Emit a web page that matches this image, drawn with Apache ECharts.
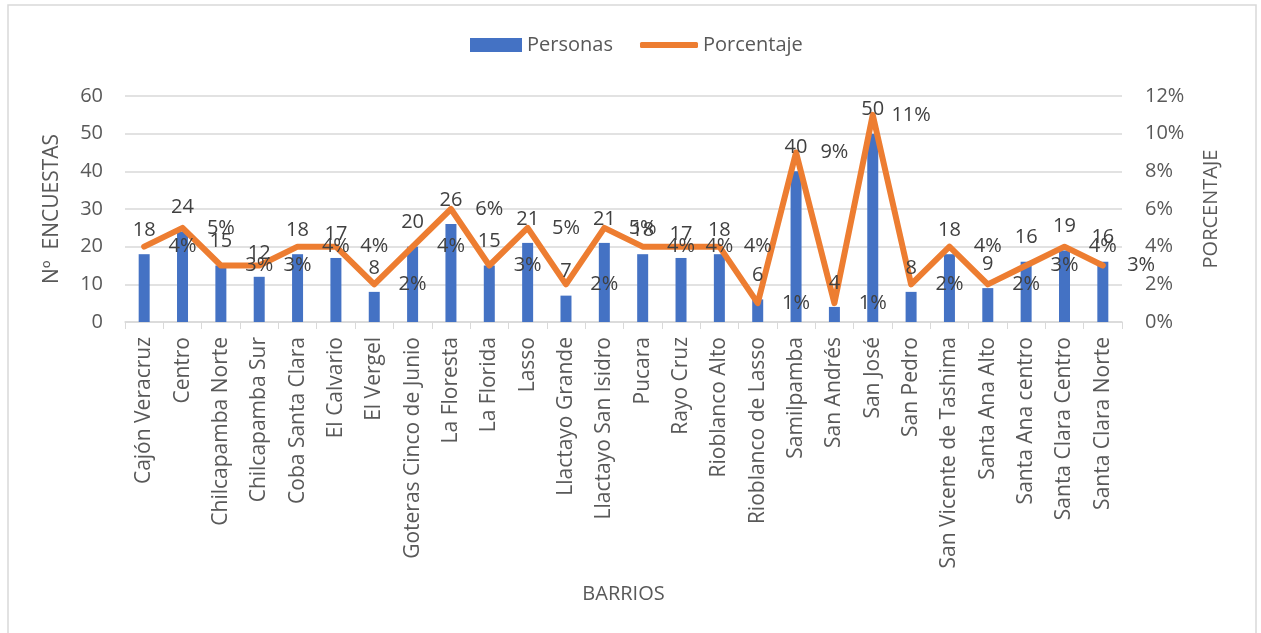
<!DOCTYPE html>
<html>
<head>
<meta charset="utf-8">
<script src="https://cdn.jsdelivr.net/npm/echarts@6/dist/echarts.min.js"></script>
<style>
    html, body {margin: 0; padding: 0; background: #fff;}
    #main {width: 1261px; height: 633px;}
</style>
</head>
<body>
<div id="main"></div>
<script>
// barrios encuestados
const barrios = [
    'Cajón Veracruz', 'Centro', 'Chilcapamba Norte', 'Chilcapamba Sur', 'Coba Santa Clara',
    'El Calvario', 'El Vergel', 'Goteras Cinco de Junio', 'La Floresta', 'La Florida',
    'Lasso', 'Llactayo Grande', 'Llactayo San Isidro', 'Pucara', 'Rayo Cruz',
    'Rioblanco Alto', 'Rioblanco de Lasso', 'Samilpamba', 'San Andrés', 'San José',
    'San Pedro', 'San Vicente de Tashima', 'Santa Ana Alto', 'Santa Ana centro',
    'Santa Clara Centro', 'Santa Clara Norte'
];
const personas = [18, 24, 15, 12, 18, 17, 8, 20, 26, 15, 21, 7, 21, 18, 17, 18, 6, 40, 4, 50, 8, 18, 9, 16, 19, 16];
const porcentaje = [4, 5, 3, 3, 4, 4, 2, 4, 6, 3, 5, 2, 5, 4, 4, 4, 1, 9, 1, 11, 2, 4, 2, 3, 4, 3];
const ticksPersonas = [0, 10, 20, 30, 40, 50, 60];
const ticksPorcentaje = [0, 2, 4, 6, 8, 10, 12];

const FONT = '"Open Sans", sans-serif';
const GRID = {left: 125, right: 139, top: 96, bottom: 311};
// ancho de cada categoria, las etiquetas % estan corridas una categoria a la derecha
const catW = (1261 - GRID.left - GRID.right) / barrios.length;

const chart = echarts.init(document.getElementById('main'));

const legendText = {fontSize: 20, color: '#595959', fontFamily: FONT};

const option = {
    animation: false,
    textStyle: {fontFamily: FONT},
    graphic: [{
        type: 'rect',
        shape: {x: 8, y: 5, width: 1248, height: 640},
        style: {fill: 'none', stroke: '#d9d9d9', lineWidth: 1.5},
        silent: true
    }],
    // dos leyendas para que la linea tenga su propio grosor
    legend: [{
        top: 30,
        left: 465,
        itemWidth: 52,
        itemHeight: 14,
        textStyle: legendText,
        data: [{name: 'Personas', icon: 'rect'}]
    }, {
        top: 30,
        left: 635,
        itemWidth: 58,
        itemHeight: 6,
        textStyle: legendText,
        data: [{name: 'Porcentaje', icon: 'roundRect'}]
    }],
    grid: GRID,
    xAxis: {
        type: 'category',
        data: barrios,
        name: 'BARRIOS',
        nameLocation: 'middle',
        nameGap: 262,
        nameTextStyle: {fontSize: 20, color: '#595959'},
        axisLine: {lineStyle: {color: '#d9d9d9', width: 1.5}},
        axisTick: {show: true, length: 7, lineStyle: {color: '#d9d9d9'}},
        axisLabel: {rotate: 90, fontSize: 21, color: '#595959', margin: 15, interval: 0}
    },
    yAxis: [{
        type: 'value',
        min: ticksPersonas[0],
        max: ticksPersonas[ticksPersonas.length - 1],
        interval: ticksPersonas[1] - ticksPersonas[0],
        name: 'Nº  ENCUESTAS',
        nameLocation: 'middle',
        nameRotate: 90,
        nameGap: 62,
        nameTextStyle: {fontSize: 21, color: '#595959'},
        axisLabel: {fontSize: 20, color: '#595959', margin: 22},
        splitLine: {lineStyle: {color: '#d9d9d9', width: 1.5}}
    }, {
        type: 'value',
        min: ticksPorcentaje[0],
        max: ticksPorcentaje[ticksPorcentaje.length - 1],
        interval: ticksPorcentaje[1] - ticksPorcentaje[0],
        name: 'PORCENTAJE',
        nameLocation: 'middle',
        nameRotate: 90,
        nameGap: 79,
        nameTextStyle: {fontSize: 20, color: '#595959'},
        axisLabel: {fontSize: 20, color: '#595959', margin: 23, formatter: '{value}%'},
        splitLine: {show: false}
    }],
    series: [{
        name: 'Personas',
        type: 'bar',
        data: personas,
        barWidth: 11,
        itemStyle: {color: '#4472C4'},
        z: 2
    }, {
        name: 'Porcentaje',
        type: 'line',
        yAxisIndex: 1,
        data: porcentaje,
        symbol: 'circle',
        symbolSize: 1,
        itemStyle: {color: '#ED7D31'},
        lineStyle: {color: '#ED7D31', width: 6, cap: 'round', join: 'round'},
        label: {
            show: true,
            position: 'inside',
            offset: [catW, 0],
            fontSize: 20,
            color: '#404040',
            formatter: '{c}%'
        },
        z: 3
    }, {
        // etiquetas de las barras, encima de la linea
        name: 'etiquetasPersonas',
        type: 'scatter',
        data: personas,
        symbol: 'circle',
        symbolSize: 1,
        itemStyle: {color: 'rgba(0,0,0,0)', opacity: 1},
        label: {
            show: true,
            position: 'inside',
            offset: [0, -24],
            fontSize: 20,
            color: '#404040'
        },
        silent: true,
        z: 5
    }]
};

chart.setOption(option);
</script>
</body>
</html>
